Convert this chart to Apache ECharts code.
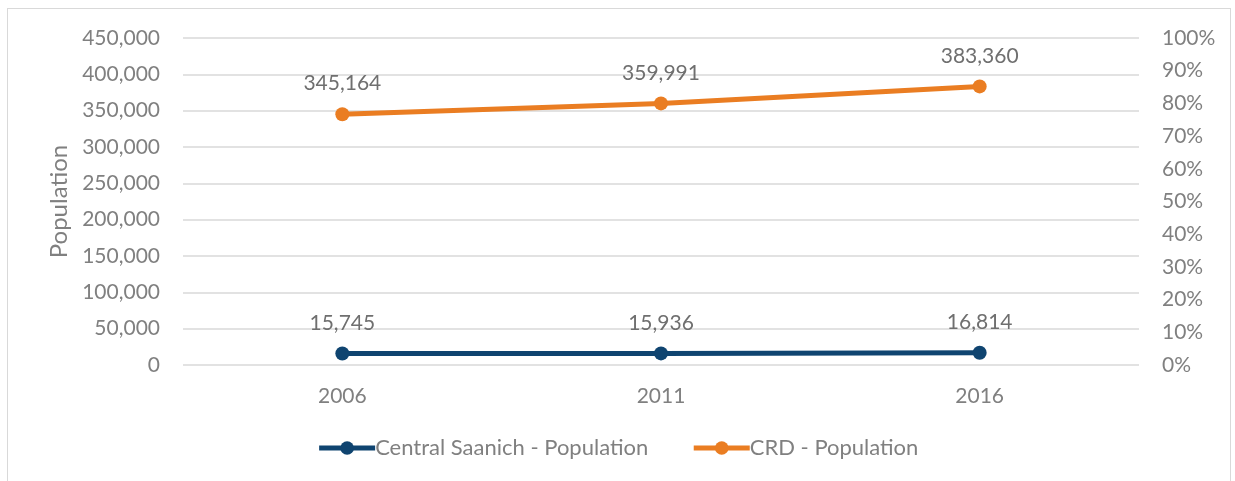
<!DOCTYPE html>
<html>
<head>
<meta charset="utf-8">
<script src="https://cdn.jsdelivr.net/npm/echarts@6/dist/echarts.min.js"></script>
<style>
    html, body { margin: 0; padding: 0; background: #fff; }
    #frame { position: absolute; left: 7px; top: 8px; width: 1224px; height: 480px; border: 1px solid #d9d9d9; box-sizing: border-box; }
    #container { width: 1235px; height: 481px; }
</style>
</head>
<body>
<div id="frame"></div>
<div id="container"></div>
<script>
// census years
var years = ['2006', '2011', '2016'];
// population by region
var centralSaanich = [15745, 15936, 16814];
var crd = [345164, 359991, 383360];
var seriesNames = ['Central Saanich - Population', 'CRD - Population'];

var font = 'Lato';
var grey = '#808080';

function fmt(v) {
    return v.toLocaleString('en-US');
}

var myChart = echarts.init(document.getElementById('container'));
var options = {
    backgroundColor: 'transparent',
    textStyle: { fontFamily: font },
    grid: { left: 183, right: 96, top: 38, bottom: 116 },
    legend: {
        top: 432,
        left: 'center',
        itemWidth: 56,
        itemHeight: 17,
        itemGap: 43,
        lineStyle: { width: 5 },
        textStyle: { fontFamily: font, fontSize: 22, color: grey, padding: [0, 0, 0, -5] },
        data: seriesNames
    },
    xAxis: {
        type: 'category',
        data: years,
        boundaryGap: true,
        axisLine: { show: false },
        axisTick: { show: false },
        axisLabel: { fontFamily: font, fontSize: 21, color: grey, margin: 21 }
    },
    yAxis: [
        {
            type: 'value',
            min: 0, max: 450000, interval: 50000,
            name: 'Population',
            nameLocation: 'middle',
            nameGap: 112,
            nameTextStyle: { fontFamily: font, fontSize: 24, color: grey },
            axisLine: { show: false },
            axisTick: { show: false },
            splitLine: { lineStyle: { color: '#d9d9d9', width: 1.5 } },
            axisLabel: { fontFamily: font, fontSize: 21, color: grey, margin: 23, formatter: fmt }
        },
        {
            type: 'value',
            min: 0, max: 1, interval: 0.1,
            axisLine: { show: false },
            axisTick: { show: false },
            splitLine: { show: false },
            axisLabel: {
                fontFamily: font, fontSize: 21, color: grey, margin: 23,
                formatter: function (v) { return Math.round(v * 100) + '%'; }
            }
        }
    ],
    series: [
        {
            name: seriesNames[0],
            type: 'line',
            data: centralSaanich,
            symbol: 'circle',
            symbolSize: 14,
            lineStyle: { width: 5, color: '#0f4470' },
            itemStyle: { color: '#0f4470' },
            label: { show: true, position: 'top', distance: 13, fontFamily: font, fontSize: 21, color: '#6f6f6f', formatter: function (p) { return fmt(p.value); } }
        },
        {
            name: seriesNames[1],
            type: 'line',
            data: crd,
            symbol: 'circle',
            symbolSize: 14,
            lineStyle: { width: 5, color: '#ea7d22' },
            itemStyle: { color: '#ea7d22' },
            label: { show: true, position: 'top', distance: 13, fontFamily: font, fontSize: 21, color: '#6f6f6f', formatter: function (p) { return fmt(p.value); } }
        }
    ]
};
myChart.setOption(options);
</script>
</body>
</html>
